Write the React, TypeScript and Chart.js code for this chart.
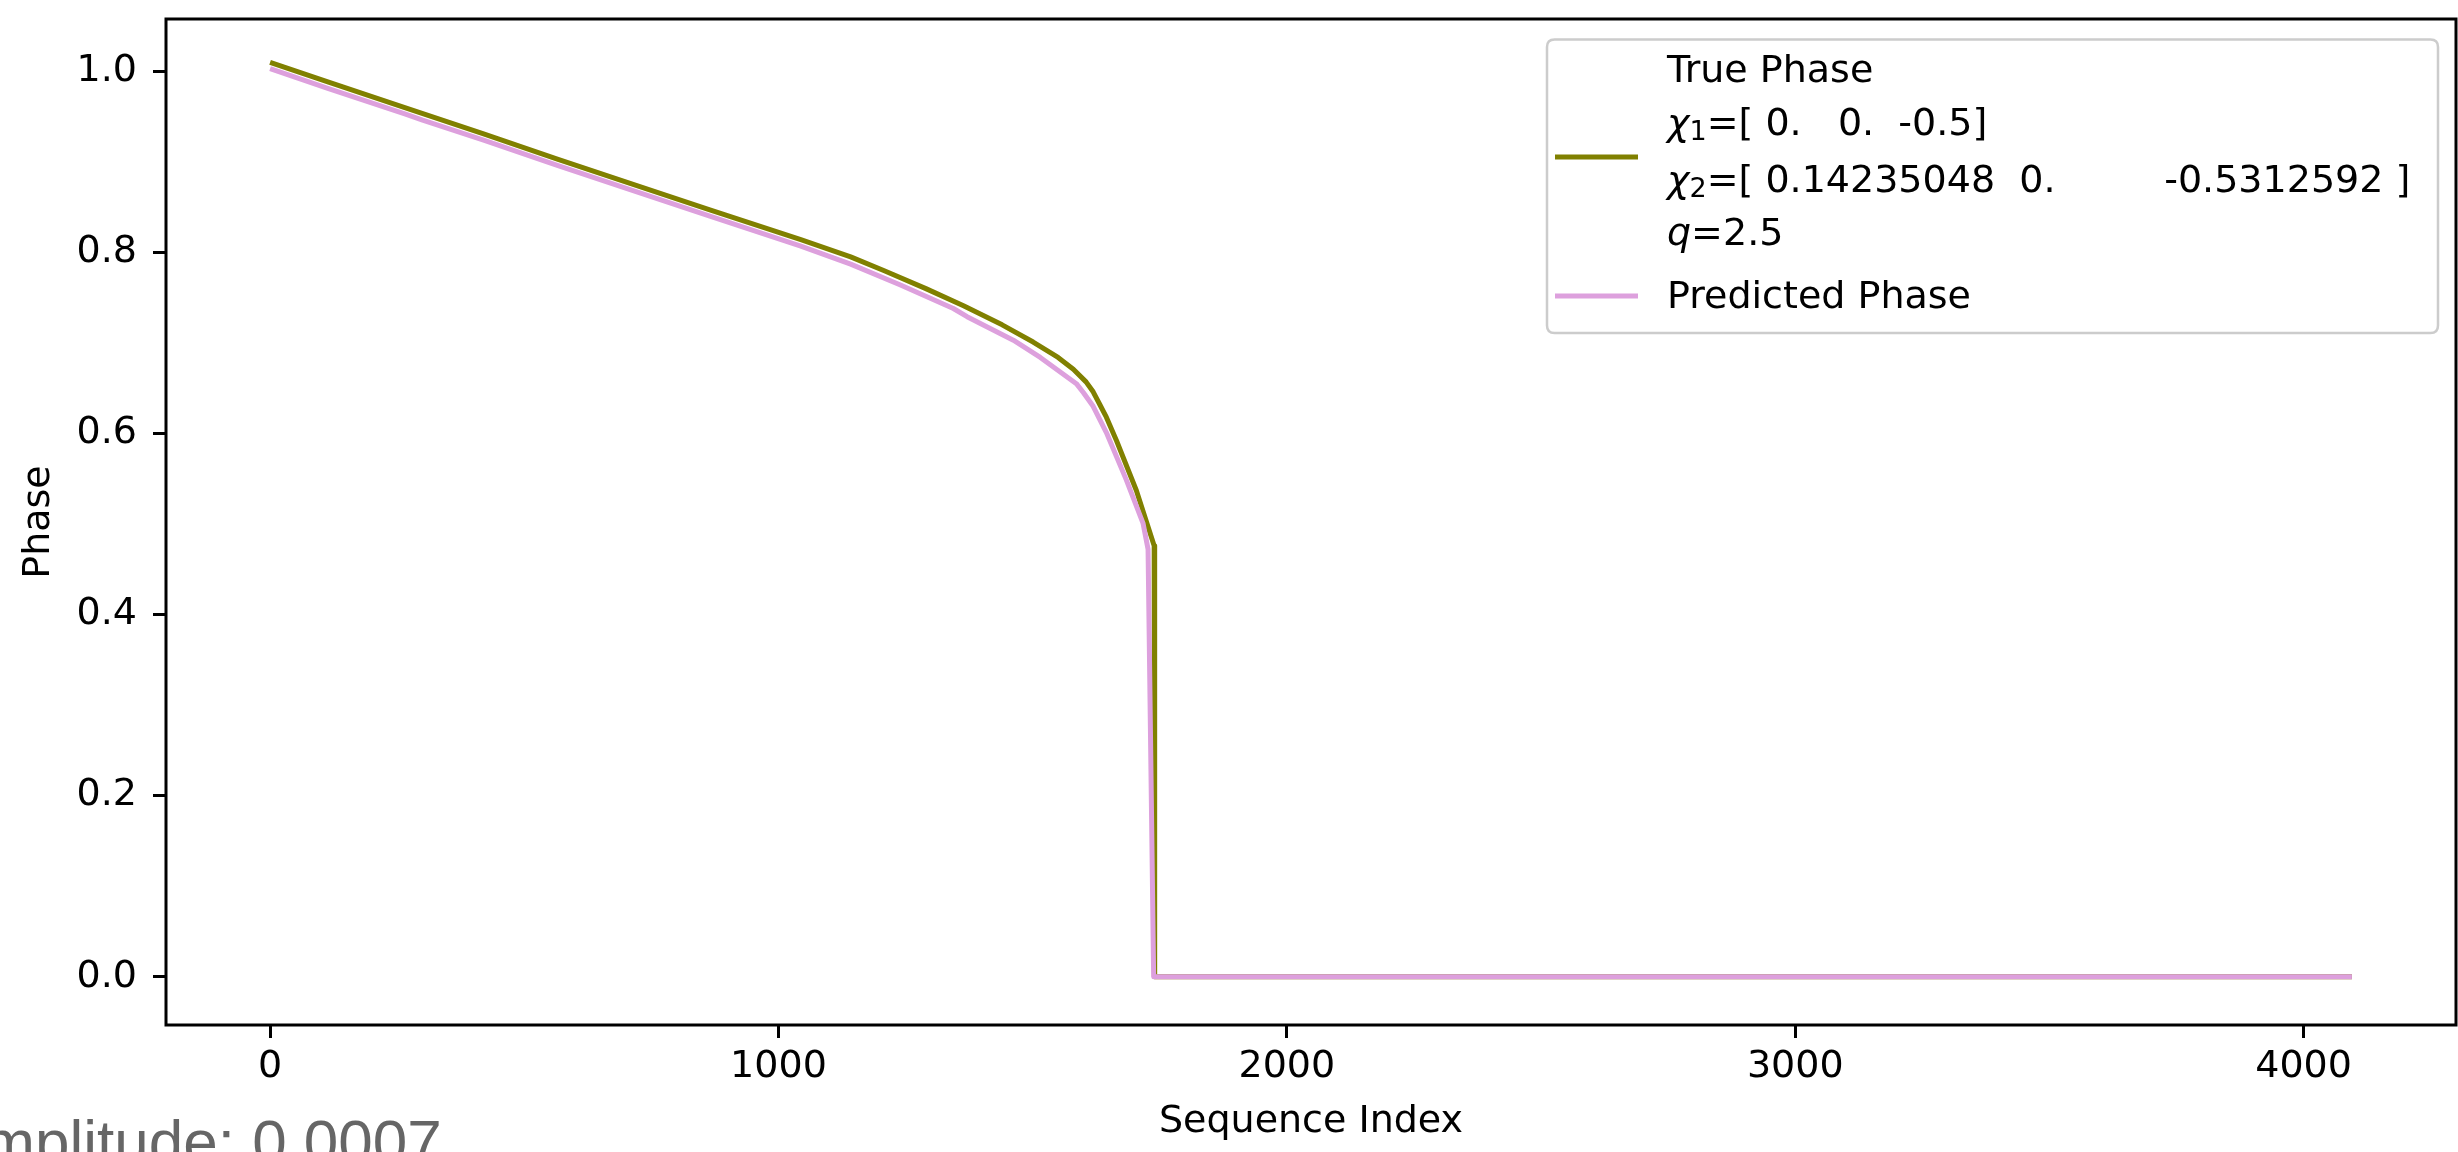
import React, { useEffect, useRef } from "react";
import { Chart, registerables } from "chart.js";

Chart.register(...registerables);

// ---------- data ----------
const trueIndex = [0, 115, 265, 420, 565, 720, 865, 1044, 1142, 1207, 1290, 1364, 1440, 1501, 1550, 1580, 1605, 1619, 1632, 1645, 1665, 1704, 1739, 1740, 4095];
const trueValue = [1.01, 0.988, 0.96, 0.931, 0.903, 0.874, 0.847, 0.814, 0.795, 0.78, 0.76, 0.741, 0.72, 0.701, 0.684, 0.671, 0.657, 0.646, 0.632, 0.618, 0.592, 0.537, 0.476, 0.0, 0.0];

const predIndex = [0, 115, 265, 300, 420, 565, 720, 865, 1044, 1142, 1240, 1344, 1371, 1462, 1515, 1586, 1600, 1619, 1645, 1684, 1717, 1727, 1738, 4095];
const predValue = [1.003, 0.981, 0.953, 0.946, 0.924, 0.896, 0.867, 0.84, 0.807, 0.787, 0.764, 0.738, 0.729, 0.703, 0.684, 0.655, 0.645, 0.63, 0.601, 0.549, 0.501, 0.472, 0.0, 0.0];

const xTickValues = [0, 1000, 2000, 3000, 4000];
const yTickValues = [0, 0.2, 0.4, 0.6, 0.8, 1.0];

const xAxisTitle = "Sequence Index";
const yAxisTitle = "Phase";

const seriesLabels = ["True Phase", "Predicted Phase"];
const chi1Sub = "1";
const chi1Text = "=[ 0.   0.  -0.5]";
const chi2Sub = "2";
const chi2Text = "=[ 0.14235048  0.         -0.5312592 ]";
const qText = "=2.5";
const belowText = "Amplitude: 0.0007";

// ---------- styling / layout ----------
const W = 2458;
const H = 1152;
const X_MIN = -204.75;
const X_MAX = 4299.75;
const Y_MIN = -0.0534;
const Y_MAX = 1.0578;
const FONT = '"DejaVu Sans", sans-serif';
const FS = 38;
const OLIVE = "#808000";
const PLUM = "#dda0dd";

const framePlugin = {
  id: "mplFrameLegend",
  afterDraw(chart: any) {
    const ctx: CanvasRenderingContext2D = chart.ctx;
    const a = chart.chartArea;
    ctx.save();
    // axes frame (spines)
    ctx.strokeStyle = "#000";
    ctx.lineWidth = 3;
    ctx.strokeRect(a.left, a.top, a.right - a.left, a.bottom - a.top);

    // legend box
    const bx = 1547, by = 39.5, bw = 891, bh = 293.5, r = 7.6;
    ctx.beginPath();
    ctx.moveTo(bx + r, by);
    ctx.lineTo(bx + bw - r, by);
    ctx.quadraticCurveTo(bx + bw, by, bx + bw, by + r);
    ctx.lineTo(bx + bw, by + bh - r);
    ctx.quadraticCurveTo(bx + bw, by + bh, bx + bw - r, by + bh);
    ctx.lineTo(bx + r, by + bh);
    ctx.quadraticCurveTo(bx, by + bh, bx, by + bh - r);
    ctx.lineTo(bx, by + r);
    ctx.quadraticCurveTo(bx, by, bx + r, by);
    ctx.closePath();
    ctx.fillStyle = "rgba(255,255,255,0.8)";
    ctx.fill();
    ctx.strokeStyle = "#cccccc";
    ctx.lineWidth = 2.5;
    ctx.stroke();

    // handles
    ctx.lineWidth = 5;
    ctx.lineCap = "butt";
    ctx.strokeStyle = OLIVE;
    ctx.beginPath();
    ctx.moveTo(1555, 157);
    ctx.lineTo(1638, 157);
    ctx.stroke();
    ctx.strokeStyle = PLUM;
    ctx.beginPath();
    ctx.moveTo(1555, 296);
    ctx.lineTo(1638, 296);
    ctx.stroke();

    // texts
    const tx = 1667;
    ctx.fillStyle = "#000";
    ctx.textAlign = "left";
    ctx.textBaseline = "alphabetic";
    ctx.font = `${FS}px ${FONT}`;
    ctx.fillText(seriesLabels[0], tx, 82);

    const mathLine = (sym: string, sub: string, rest: string, base: number) => {
      let x = tx;
      ctx.font = `italic ${FS}px ${FONT}`;
      ctx.fillText(sym, x, base);
      x += ctx.measureText(sym).width;
      if (sub) {
        ctx.font = `27px ${FONT}`;
        ctx.fillText(sub, x, base + 5);
        x += ctx.measureText(sub).width;
      }
      ctx.font = `${FS}px ${FONT}`;
      ctx.fillText(rest, x, base);
    };
    mathLine("χ", chi1Sub, chi1Text, 135);
    mathLine("χ", chi2Sub, chi2Text, 192);
    mathLine("q", "", qText, 245);

    ctx.font = `${FS}px ${FONT}`;
    ctx.fillText(seriesLabels[1], tx, 308);
    ctx.restore();
  },
};

export default function App() {
  const ref = useRef<HTMLCanvasElement>(null);

  useEffect(() => {
    const canvas = ref.current;
    if (!canvas) return;
    const tickFont = { family: FONT, size: FS, lineHeight: 1.2 };
    const grid = {
      display: true,
      drawOnChartArea: false,
      drawTicks: true,
      tickLength: 13,
      tickWidth: 3,
      tickColor: "#000",
      color: "#000",
      lineWidth: 3,
    };
    const chart = new Chart(canvas, {
      type: "line",
      data: {
        datasets: [
          {
            label: seriesLabels[0],
            data: trueIndex.map((x, i) => ({ x, y: trueValue[i] })),
            borderColor: OLIVE,
            backgroundColor: OLIVE,
            borderWidth: 5,
            pointRadius: 0,
            tension: 0,
            fill: false,
            borderJoinStyle: "round",
            order: 2,
          },
          {
            label: seriesLabels[1],
            data: predIndex.map((x, i) => ({ x, y: predValue[i] })),
            borderColor: PLUM,
            backgroundColor: PLUM,
            borderWidth: 5,
            pointRadius: 0,
            tension: 0,
            fill: false,
            borderJoinStyle: "round",
            order: 1,
          },
        ],
      },
      options: {
        animation: false,
        responsive: false,
        devicePixelRatio: 1,
        layout: { padding: { left: 0, top: 19, right: 2, bottom: 0 } },
        plugins: {
          legend: { display: false },
          tooltip: { enabled: false },
          title: { display: false },
        },
        scales: {
          x: {
            type: "linear",
            position: "bottom",
            min: X_MIN,
            max: X_MAX,
            afterFit: (s: any) => {
              s.height = 127;
              s.paddingLeft = 0;
              s.paddingRight = 0;
              s.paddingTop = 0;
              s.paddingBottom = 0;
            },
            afterBuildTicks: (s: any) => {
              s.ticks = xTickValues.map((v) => ({ value: v }));
            },
            ticks: {
              autoSkip: false,
              maxRotation: 0,
              minRotation: 0,
              padding: 6,
              color: "#000",
              font: tickFont,
              callback: (v: any) => String(v),
            },
            grid,
            border: { display: false },
            title: {
              display: true,
              text: xAxisTitle,
              color: "#000",
              font: tickFont,
              padding: { top: 0, bottom: 6.7 },
            },
          },
          y: {
            type: "linear",
            position: "left",
            min: Y_MIN,
            max: Y_MAX,
            afterFit: (s: any) => {
              s.width = 166;
              s.paddingLeft = 0;
              s.paddingRight = 0;
              s.paddingTop = 0;
              s.paddingBottom = 0;
            },
            afterBuildTicks: (s: any) => {
              s.ticks = yTickValues.map((v) => ({ value: v }));
            },
            ticks: {
              autoSkip: false,
              padding: 16,
              color: "#000",
              font: tickFont,
              callback: (v: any) => Number(v).toFixed(1),
            },
            grid,
            border: { display: false },
            title: {
              display: true,
              text: yAxisTitle,
              color: "#000",
              font: tickFont,
              padding: { top: 16, bottom: 0 },
            },
          },
        },
      } as any,
      plugins: [framePlugin],
    });
    return () => chart.destroy();
  }, []);

  return (
    <div
      style={{
        position: "fixed",
        left: 0,
        top: 0,
        width: W,
        height: H,
        overflow: "hidden",
        background: "#fff",
      }}
    >
      <canvas ref={ref} width={W} height={H} style={{ position: "absolute", left: 0, top: 0, width: W, height: H }} />
      <div
        style={{
          position: "absolute",
          left: -58,
          top: 1110.5,
          whiteSpace: "nowrap",
          fontFamily: '"Liberation Sans", Arial, sans-serif',
          fontSize: 62,
          lineHeight: 1,
          color: "#666",
        }}
      >
        {belowText}
      </div>
    </div>
  );
}
